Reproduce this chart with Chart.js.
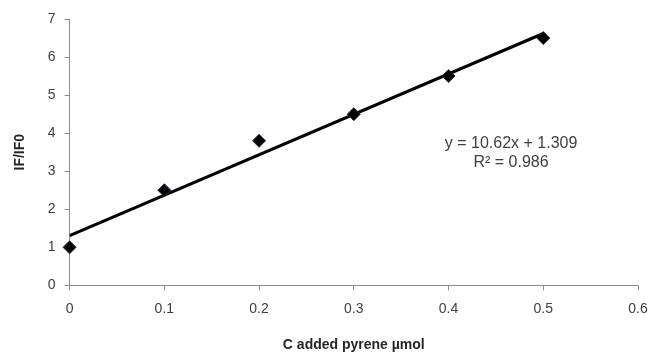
<!DOCTYPE html>
<html>
<head>
<meta charset="utf-8">
<script src="https://cdn.jsdelivr.net/npm/chart.js@4.4.0/dist/chart.umd.min.js"></script>
<style>
  html, body { margin: 0; padding: 0; background: #fff; }
  #wrap { width: 651px; height: 355px; }
</style>
</head>
<body>
<div id="wrap"><canvas id="chart" width="651" height="355"></canvas></div>
<script>
// datos
const concentraciones = [0, 0.1, 0.2, 0.3, 0.4, 0.5];
const razonIF = [1, 2.5, 3.8, 4.5, 5.5, 6.5];
const pendiente = 10.62;
const intercepto = 1.309;
const ecuacion = ["y = 10.62x + 1.309", "R² = 0.986"];

const tendencia = [
    { x: 0, y: intercepto },
    { x: 0.5, y: intercepto + pendiente * 0.5 }
];

// texto de la ecuación
const etiquetaEcuacion = {
    id: 'etiquetaEcuacion',
    afterDatasetsDraw(chart) {
        const { ctx, scales } = chart;
        const x = scales.x.getPixelForValue(0.466);
        ctx.save();
        ctx.fillStyle = '#404040';
        ctx.font = '16px "Liberation Sans", Arial, sans-serif';
        ctx.textAlign = 'center';
        ctx.textBaseline = 'middle';
        ctx.fillText(ecuacion[0], x, scales.y.getPixelForValue(3.72));
        ctx.fillText(ecuacion[1], x, scales.y.getPixelForValue(3.22));
        ctx.restore();
    }
};

const ejeColor = '#8c8c8c';
const fuente = { family: '"Liberation Sans", Arial, sans-serif', size: 14 };

new Chart(document.getElementById('chart'), {
    type: 'scatter',
    data: {
        datasets: [
            {
                label: 'IF/IF0',
                data: concentraciones.map((c, i) => ({ x: c, y: razonIF[i] })),
                pointStyle: 'rectRot',
                pointRadius: 6.5,
                backgroundColor: '#000',
                borderColor: '#1f2a44',
                borderWidth: 1,
                clip: false,
                order: 1
            },
            {
                label: 'tendencia',
                type: 'line',
                data: tendencia,
                borderColor: '#000',
                borderWidth: 3,
                pointRadius: 0,
                fill: false,
                order: 2
            }
        ]
    },
    options: {
        responsive: false,
        animation: false,
        layout: { padding: { left: 8, right: 13, top: 19, bottom: 0 } },
        plugins: {
            legend: { display: false },
            tooltip: { enabled: false }
        },
        scales: {
            x: {
                type: 'linear',
                min: 0,
                max: 0.6,
                afterFit: s => { s.paddingRight = 0; },
                ticks: { stepSize: 0.1, color: '#404040', font: fuente, padding: 10 },
                grid: { drawOnChartArea: false, drawTicks: true, tickLength: 5, color: ejeColor },
                border: { color: ejeColor },
                title: {
                    display: true,
                    text: 'C added pyrene µmol',
                    color: '#262626',
                    font: { family: fuente.family, size: 14, weight: 'bold' },
                    padding: { top: 10, bottom: 1 }
                }
            },
            y: {
                min: 0,
                max: 7,
                ticks: { stepSize: 1, color: '#404040', font: fuente, padding: 9 },
                grid: { drawOnChartArea: false, drawTicks: true, tickLength: 5, color: ejeColor },
                border: { color: ejeColor },
                title: {
                    display: true,
                    text: 'IF/IF0',
                    color: '#262626',
                    font: { family: fuente.family, size: 14, weight: 'bold' },
                    padding: { bottom: 10 }
                }
            }
        }
    },
    plugins: [etiquetaEcuacion]
});
</script>
</body>
</html>
